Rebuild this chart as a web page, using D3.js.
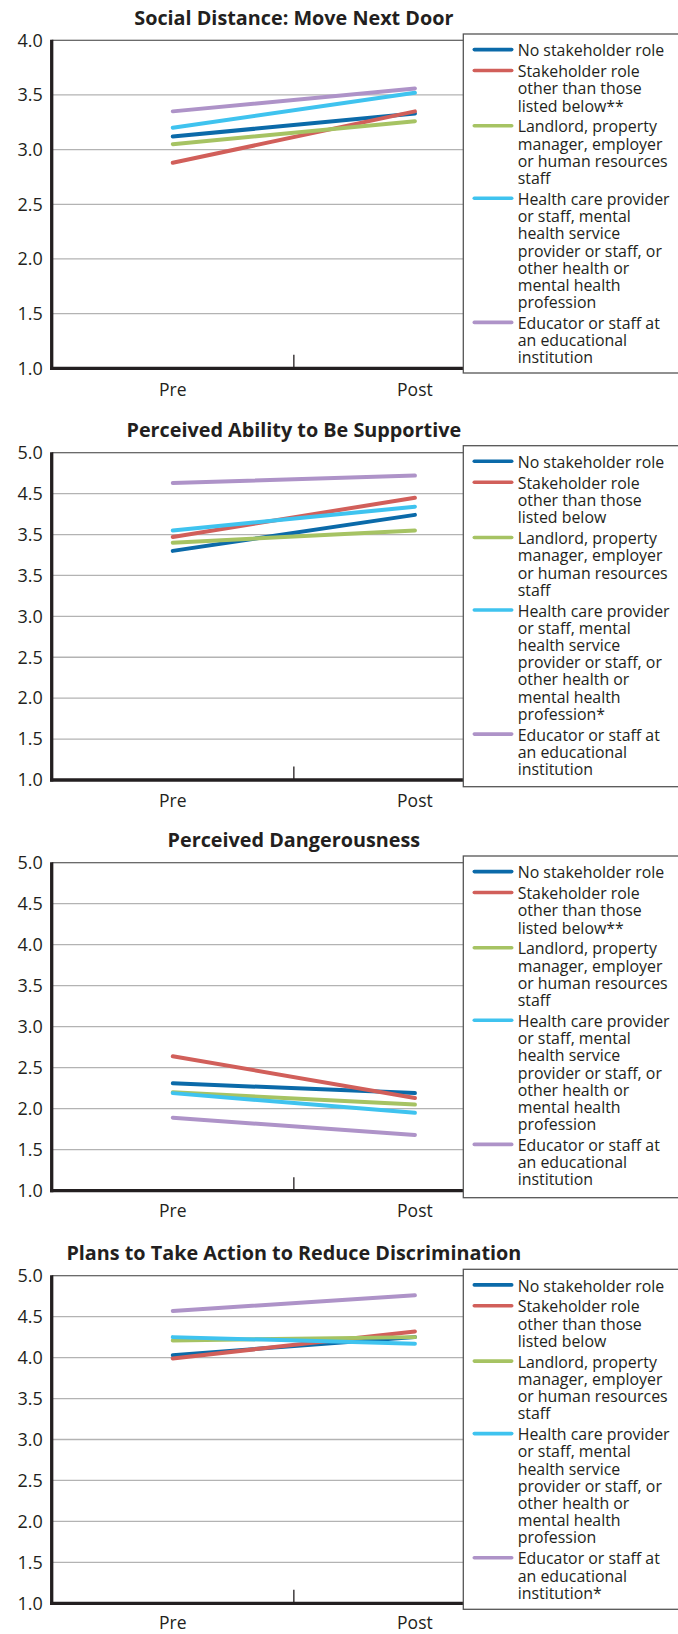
<!DOCTYPE html>
<html>
<head>
<meta charset="utf-8">
<script src="https://cdn.jsdelivr.net/npm/d3@7"></script>
<style>
  html, body { margin: 0; padding: 0; background: #fff; }
  svg { display: block; }
  text { font-family: "Open Sans", "Noto Sans", sans-serif; fill: #231f20; }
</style>
</head>
<body>
<script>
// ---------------- DATA ----------------
const phases = ["Pre", "Post"];

const seriesNames = [
  "No stakeholder role",
  "Stakeholder role other than those listed below",
  "Landlord, property manager, employer or human resources staff",
  "Health care provider or staff, mental health service provider or staff, or other health or mental health profession",
  "Educator or staff at an educational institution"
];

const seriesColors = ["#0b6aa9", "#d15f5a", "#a6c363", "#3fc3ef", "#ae93c8"];

// Legend label lines (as wrapped in the original)
const legendLines = [
  ["No stakeholder role"],
  ["Stakeholder role", "other than those", "listed below"],
  ["Landlord, property", "manager, employer", "or human resources", "staff"],
  ["Health care provider", "or staff, mental", "health service", "provider or staff, or", "other health or", "mental health", "profession"],
  ["Educator or staff at", "an educational", "institution"]
];

const chartTitles = [
  "Social Distance: Move Next Door",
  "Perceived Ability to Be Supportive",
  "Perceived Dangerousness",
  "Plans to Take Action to Reduce Discrimination"
];

// footnote markers appended to the last legend line of each series, per chart
const footnoteMarks = [
  ["", "**", "", "", ""],
  ["", "", "", "*", ""],
  ["", "**", "", "", ""],
  ["", "", "", "", "*"]
];

const yDomains = [[1, 4], [1, 5], [1, 5], [1, 5]];

const yTickValues = [
  [1.0, 1.5, 2.0, 2.5, 3.0, 3.5, 4.0],
  [1.0, 1.5, 2.0, 2.5, 3.0, 3.5, 4.0, 4.5, 5.0],
  [1.0, 1.5, 2.0, 2.5, 3.0, 3.5, 4.0, 4.5, 5.0],
  [1.0, 1.5, 2.0, 2.5, 3.0, 3.5, 4.0, 4.5, 5.0]
];

// tick labels as printed (chart 2 prints "3.5" at the 4.0 gridline)
const yTickLabels = [
  ["1.0", "1.5", "2.0", "2.5", "3.0", "3.5", "4.0"],
  ["1.0", "1.5", "2.0", "2.5", "3.0", "3.5", "3.5", "4.5", "5.0"],
  ["1.0", "1.5", "2.0", "2.5", "3.0", "3.5", "4.0", "4.5", "5.0"],
  ["1.0", "1.5", "2.0", "2.5", "3.0", "3.5", "4.0", "4.5", "5.0"]
];

// values [Pre, Post] per series, per chart
const socialDistance = [
  [3.12, 3.33],
  [2.88, 3.35],
  [3.05, 3.26],
  [3.20, 3.52],
  [3.35, 3.56]
];
const abilitySupportive = [
  [3.80, 4.24],
  [3.97, 4.45],
  [3.90, 4.05],
  [4.05, 4.34],
  [4.63, 4.72]
];
const dangerousness = [
  [2.31, 2.19],
  [2.64, 2.13],
  [2.20, 2.05],
  [2.19, 1.95],
  [1.89, 1.68]
];
const plansAction = [
  [4.03, 4.25],
  [3.99, 4.32],
  [4.21, 4.25],
  [4.25, 4.17],
  [4.57, 4.76]
];
const chartValues = [socialDistance, abilitySupportive, dangerousness, plansAction];

// ---------------- LAYOUT ----------------
const W = 678, H = 1634;
const layout = [
  { titleY: 25,    top: 40.3,   bottom: 368.3,  legTop: 34,     legBottom: 373,    xLabY: 395.5 },
  { titleY: 436.7, top: 452.7,  bottom: 780,    legTop: 445.7,  legBottom: 786.7,  xLabY: 806.7 },
  { titleY: 846.7, top: 862.7,  bottom: 1190.7, legTop: 856,    legBottom: 1197.7, xLabY: 1216.7 },
  { titleY: 1260,  top: 1275.7, bottom: 1603.3, legTop: 1269.3, legBottom: 1609.3, xLabY: 1629.3 }
];
const plotLeft = 51.7, plotRight = 536, legLeft = 463.3;

const svg = d3.select("body").append("svg").attr("width", W).attr("height", H);

const x = d3.scalePoint().domain(phases).range([plotLeft, plotRight]).padding(0.5);

chartTitles.forEach((title, ci) => {
  const L = layout[ci];
  const g = svg.append("g");
  const y = d3.scaleLinear().domain(yDomains[ci]).range([L.bottom, L.top]);

  // gridlines
  g.selectAll("line.grid")
    .data(yTickValues[ci].filter(v => v > yDomains[ci][0] && v < yDomains[ci][1]))
    .join("line")
    .attr("x1", plotLeft).attr("x2", plotRight)
    .attr("y1", d => y(d)).attr("y2", d => y(d))
    .attr("stroke", "#b3b3b3").attr("stroke-width", 1.3);

  // top border
  g.append("line")
    .attr("x1", plotLeft).attr("x2", plotRight)
    .attr("y1", y(yDomains[ci][1])).attr("y2", y(yDomains[ci][1]))
    .attr("stroke", "#3a3a3a").attr("stroke-width", 1.1);

  // y-axis (labels only, custom text)
  const yAxis = d3.axisLeft(y)
    .tickValues(yTickValues[ci])
    .tickFormat((d, i) => yTickLabels[ci][i])
    .tickSize(0).tickPadding(9);
  const ya = g.append("g").attr("transform", `translate(${plotLeft},0)`).call(yAxis);
  ya.select(".domain").remove();
  ya.selectAll("text")
    .attr("font-size", 18)
    .attr("fill", "#231f20")
    .style("font-family", '"Open Sans", sans-serif');

  // data lines
  const lineGen = d3.line().x((d, i) => x(phases[i])).y(d => y(d));
  g.selectAll("path.series")
    .data(chartValues[ci])
    .join("path")
    .attr("d", d => lineGen(d))
    .attr("fill", "none")
    .attr("stroke", (d, i) => seriesColors[i])
    .attr("stroke-width", 4)
    .attr("stroke-linecap", "round");

  // axes lines (thick left and bottom)
  g.append("line")
    .attr("x1", plotLeft).attr("x2", plotLeft)
    .attr("y1", L.top - 0.5).attr("y2", L.bottom + 1.6)
    .attr("stroke", "#231f20").attr("stroke-width", 3.3);
  g.append("line")
    .attr("x1", plotLeft - 1.6).attr("x2", plotRight)
    .attr("y1", L.bottom).attr("y2", L.bottom)
    .attr("stroke", "#231f20").attr("stroke-width", 3.3);

  // x-axis: band boundary tick between the categories, category labels
  const mid = (x(phases[0]) + x(phases[1])) / 2;
  g.append("line")
    .attr("x1", mid).attr("x2", mid)
    .attr("y1", L.bottom).attr("y2", L.bottom - 13.5)
    .attr("stroke", "#231f20").attr("stroke-width", 1.3);
  g.selectAll("text.xlab")
    .data(phases)
    .join("text")
    .attr("x", d => x(d)).attr("y", L.xLabY)
    .attr("text-anchor", "middle")
    .attr("font-size", 17.5)
    .text(d => d);

  // title
  g.append("text")
    .attr("x", (plotLeft + plotRight) / 2).attr("y", L.titleY)
    .attr("text-anchor", "middle")
    .attr("font-size", 19.8)
    .attr("font-weight", "bold")
    .text(title);

  // legend box
  g.append("rect")
    .attr("x", legLeft).attr("y", L.legTop)
    .attr("width", W + 20 - legLeft).attr("height", L.legBottom - L.legTop)
    .attr("fill", "#fff").attr("stroke", "#555").attr("stroke-width", 1.3);

  const lineH = 17.2, itemGap = 3.7;
  let swY = L.legTop + 15.6;
  legendLines.forEach((lines, si) => {
    g.append("line")
      .attr("x1", 474.3).attr("x2", 511.7)
      .attr("y1", swY).attr("y2", swY)
      .attr("stroke", seriesColors[si]).attr("stroke-width", 3.6)
      .attr("stroke-linecap", "round");
    const t = g.append("text")
      .attr("x", 517.7).attr("y", swY + 6.6)
      .attr("font-size", 15.9);
    lines.forEach((ln, li) => {
      const txt = li === lines.length - 1 ? ln + footnoteMarks[ci][si] : ln;
      t.append("tspan")
        .attr("x", 517.7)
        .attr("dy", li === 0 ? 0 : lineH)
        .text(txt);
    });
    swY += lines.length * lineH + itemGap;
  });
});
</script>
</body>
</html>
